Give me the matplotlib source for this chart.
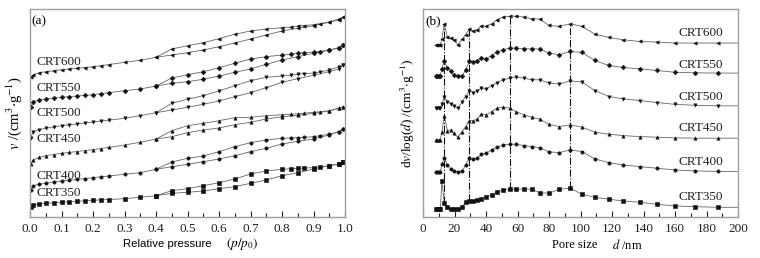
import numpy as np
import matplotlib
matplotlib.use("Agg")
import matplotlib.pyplot as plt
from matplotlib.ticker import MultipleLocator

plt.rcParams["font.family"] = ["Liberation Serif", "DejaVu Serif"]
plt.rcParams["mathtext.fontset"] = "stix"

SAMPLES = ["CRT350", "CRT400", "CRT450", "CRT500", "CRT550", "CRT600"]
MARKERS = ["s", "o", "^", "v", "D", "<"]

# (a) N2 isotherms, stacked (arbitrary offset units)
ads_p = [0.003, 0.01, 0.03, 0.05, 0.075, 0.1, 0.125, 0.15, 0.175, 0.2, 0.225, 0.25, 0.3, 0.35,
         0.4, 0.45, 0.5, 0.55, 0.6, 0.65, 0.7, 0.75, 0.8, 0.85, 0.9, 0.95, 0.98, 0.995]
des_p = [0.995, 0.98, 0.95, 0.92, 0.9, 0.87, 0.85, 0.83, 0.8, 0.75, 0.7, 0.65, 0.6, 0.55,
         0.5, 0.45, 0.4]

ads_350 = [9, 11, 12, 12.7, 13.2, 13.7, 14.2, 14.7, 15.2, 15.7, 16.1, 16.5, 17.3, 18.7,
           20.3, 22.7, 23.7, 25, 27.3, 29.3, 32.7, 36, 40.3, 43.3, 47, 50.3, 51.7, 53.7]
des_350 = [53.7, 52, 50.3, 49, 48.3, 48, 47.7, 47.2, 46.7, 45, 42, 37, 33.3, 30.3, 27.3, 25.3, 20.3]
ads_400 = [26, 30.3, 31.8, 32.7, 33.9, 35, 35.8, 36.6, 37.5, 38.3, 39.2, 40, 41.7, 43.3,
           46.7, 49.3, 51.7, 54.3, 57, 60.3, 64.3, 67.7, 72, 74.7, 77, 81, 84.3, 87]
des_400 = [87, 84.3, 81.7, 80.3, 79.3, 78.7, 78.3, 78, 77.7, 76, 73.3, 69.3, 64.3, 60, 57.7, 54, 46.7]
ads_450 = [52, 56, 58.7, 60.3, 61.5, 62.7, 63.6, 64.5, 65.4, 66.3, 67.5, 68.6, 71, 73.7,
           77, 79.3, 83.3, 86, 88, 91.3, 93.7, 97, 99.3, 100.7, 102.7, 105, 107.7, 109.3]
des_450 = [109.3, 107.7, 105.3, 104.3, 103.7, 102.8, 102.3, 101.7, 101.3, 100.3, 98.7, 98.3,
           95.3, 92.7, 90.3, 85.3, 77]
ads_500 = [78.5, 84.3, 86.5, 87.7, 89, 90.3, 91.2, 92.1, 93, 94, 94.9, 95.8, 97.7, 100.3,
           103.3, 106, 108.7, 111.7, 115, 119.3, 123.3, 128.3, 133.7, 137.3, 140.7, 144.3, 147, 151]
des_500 = [151, 149.3, 146, 144, 143, 142.2, 141.7, 140.7, 140, 138.7, 135.3, 130.3, 125,
           120.3, 116.7, 112.7, 103.3]
ads_550 = [109, 114.3, 116, 117, 118, 118.7, 119.3, 120, 120.6, 121.3, 122.3, 123.3, 125.3, 127,
           130, 132.7, 134.3, 136.7, 140, 143.7, 147, 151.7, 156, 159.3, 162.7, 166, 167.7, 171]
des_550 = [171, 168.3, 166, 164.5, 163.7, 163.2, 162.7, 161.7, 161, 159.3, 157, 152.7, 148.3,
           144.3, 141.3, 138, 130]
ads_600 = [138.7, 141, 143.3, 144.3, 145.3, 146.3, 147, 147.8, 148.5, 149.3, 150.3, 151.4, 153.7,
           155.7, 158.7, 161, 163.3, 166, 169.3, 173, 177, 181, 185, 187.7, 190.3, 193.7, 196, 198.7]
des_600 = [198.7, 197, 194, 192.3, 191.3, 190.5, 190, 189, 188.3, 187, 185, 181.7, 177.3,
           173.3, 170.3, 167, 158.7]

ADS = [ads_350, ads_400, ads_450, ads_500, ads_550, ads_600]
DES = [des_350, des_400, des_450, des_500, des_550, des_600]
label_pos_a = [23, 40, 77, 103, 128, 154]

# (b) pore size distribution, stacked
pore_d = [8, 9, 10, 11, 12, 13.5, 15.5, 17.5, 19.5, 22, 25, 27, 29.5, 32, 34.5, 37, 40, 43.5,
          47, 51, 55, 59, 64, 69, 74, 80, 86.5, 93.5, 101, 109, 118, 127, 137.5, 148.5, 160,
          173, 187, 200]
psd_350 = [8, 8, 8, 8, 36, 13.7, 10.3, 8.3, 8.3, 8.3, 10, 15.3, 16, 16, 17, 18, 20.3, 22,
           25.3, 27, 27.7, 27.7, 28, 27.7, 24.3, 23.7, 27.7, 28.7, 22.7, 19.7, 17.7, 16, 14.7,
           12.7, 11, 10.3, 9.7, 9.7]
psd_400 = [45.3, 45.3, 45.3, 45.3, 53, 58.7, 52, 48, 46, 45.3, 46, 52, 58.7, 57.7, 58.7, 62.7,
           63.7, 67, 69.7, 72, 72.7, 72.7, 71.3, 70.3, 69.3, 65, 64.3, 67, 65.3, 58, 54.3, 52,
           50.3, 48.7, 47, 46, 45.5, 45.3]
psd_450 = [77, 77, 77, 77, 85, 101, 86.3, 87, 83.7, 79.7, 85.3, 90.3, 96.3, 96.3, 97.7, 103,
           102, 105.3, 108.7, 109.7, 108.7, 105.3, 102, 99.7, 97.7, 92.5, 90.3, 92, 89.7, 84.7,
           82.7, 81.3, 80.3, 79.7, 79, 78.7, 78.7, 78.7]
psd_500 = [108.7, 108.7, 108.7, 108.7, 113, 119.7, 115.3, 113, 111, 108.7, 115.3, 120.3, 126.3,
           124.3, 126, 128.7, 127.7, 131, 134.3, 137, 138.7, 139.7, 138.7, 137, 137, 133.7,
           132.7, 136, 134.7, 126.3, 120.3, 118, 116.3, 114.3, 112.5, 111.5, 111, 111]
psd_550 = [141, 141, 141, 141, 148, 155.3, 148.7, 146, 142, 141, 141, 147, 155.3, 154.7, 156,
           158.7, 158, 161, 164.7, 167, 168.7, 168.7, 168, 168, 167.7, 163.7, 162, 165.3, 164.3,
           156.3, 151.3, 149.3, 148, 146.3, 144.5, 144, 143.7, 143.7]
psd_600 = [172, 172, 172, 172, 178, 192.7, 179.7, 178.7, 177, 172, 177.7, 182, 187.7, 186, 187,
           191, 190.3, 193, 197, 199.7, 200.3, 200.7, 199.7, 198, 197.7, 191.3, 190.3, 193,
           190.3, 182.7, 179.3, 177, 175.3, 174.7, 173.7, 173.7, 173.7, 173.7]

PSD = [psd_350, psd_400, psd_450, psd_500, psd_550, psd_600]
label_pos_b = [20, 55, 89, 120, 152, 184]
peak_d = [13.5, 29.5, 55, 93.5]

LINE = "#666666"
FRAME = "#a0a0a0"
MK = dict(ms=2.4, mfc="#111111", mec="#111111", mew=0.4)


def style_axes(ax):
    for s in ax.spines.values():
        s.set_color(FRAME)
        s.set_linewidth(1.0)
    ax.set_yticks([])
    ax.tick_params(axis="x", which="both", direction="in", top=False, colors="#222222",
                   labelsize=9.5, pad=4)
    ax.tick_params(axis="x", which="major", length=4, width=0.8)
    ax.tick_params(axis="x", which="minor", length=3, width=0.8)


fig = plt.figure(figsize=(7.6, 2.58), dpi=100)
ax1 = fig.add_axes([30 / 760, 41 / 258, 315 / 760, 208 / 258])
ax2 = fig.add_axes([423 / 760, 41 / 258, 315 / 760, 208 / 258])

# panel (a)
for ads, des, m in zip(ADS, DES, MARKERS):
    ax1.plot(ads_p, ads, color=LINE, lw=0.6, marker=m, **MK)
    ax1.plot(des_p, des, color=LINE, lw=0.6, marker=m, **MK)
for name, yy in zip(SAMPLES, label_pos_a):
    ax1.text(0.021, yy, name, fontsize=9.5, va="center", ha="left", color="#222222")
ax1.set_xlim(0, 1)
ax1.set_ylim(-1, 207)
ax1.xaxis.set_major_locator(MultipleLocator(0.1))
ax1.xaxis.set_minor_locator(MultipleLocator(0.05))
ax1.xaxis.set_major_formatter(lambda v, p: f"{v:.1f}")
style_axes(ax1)
ax1.text(0.005, 0.94, "(a)", transform=ax1.transAxes, fontsize=9.5, ha="left", va="center")
ax1.set_ylabel(r"$v$ /(cm$^3$$\cdot$g$^{-1}$)", fontsize=10.5, labelpad=4)
ax1.text(0.435, -0.13, "Relative pressure", transform=ax1.transAxes, fontsize=8.2,
         family=["Liberation Sans", "DejaVu Sans"], ha="center", va="center")
ax1.text(0.675, -0.13, r"$(p/p_0)$", transform=ax1.transAxes, fontsize=9.5,
         ha="center", va="center")

# panel (b)
for vals, m in zip(PSD, MARKERS):
    ax2.plot(pore_d, vals, color=LINE, lw=0.6, marker=m, markevery=slice(0, len(pore_d) - 1),
             **MK)
top = np.interp(peak_d, pore_d, psd_600)
bot = np.interp(peak_d, pore_d, psd_350)
for d, y0, y1 in zip(peak_d, bot, top):
    ax2.plot([d, d], [y0, y1], color="#111111", lw=0.8, ls="-.")
for name, yy in zip(SAMPLES, label_pos_b):
    ax2.text(190.5, yy, name, fontsize=9.5, va="center", ha="right", color="#222222")
ax2.set_xlim(0, 200)
ax2.set_ylim(0, 207.7)
ax2.xaxis.set_major_locator(MultipleLocator(20))
ax2.xaxis.set_minor_locator(MultipleLocator(10))
style_axes(ax2)
ax2.text(0.008, 0.94, "(b)", transform=ax2.transAxes, fontsize=9.5, ha="left", va="center")
ax2.set_ylabel(r"d$v$/log($d$) /(cm$^3$$\cdot$g$^{-1}$)", fontsize=9.5, labelpad=4)
ax2.text(0.483, -0.135, "Pore size", transform=ax2.transAxes, fontsize=9,
         ha="center", va="center")
ax2.text(0.648, -0.135, r"$d$ /nm", transform=ax2.transAxes, fontsize=9,
         ha="center", va="center")

fig.savefig("out.png", dpi=100)
